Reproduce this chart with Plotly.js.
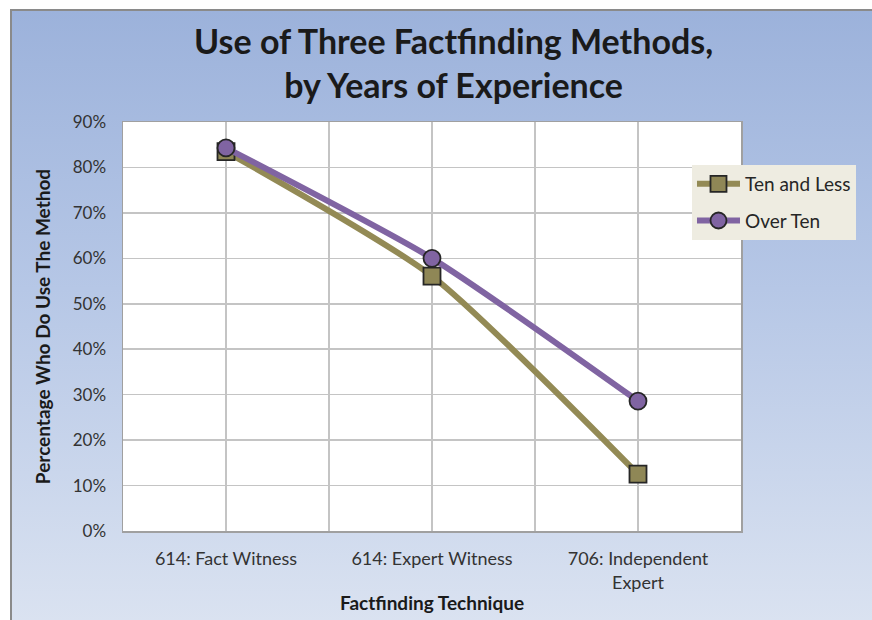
<!DOCTYPE html>
<html>
<head>
<meta charset="utf-8">
<script src="https://cdn.plot.ly/plotly-3.0.1.min.js"></script>
<style>
  html, body { margin: 0; padding: 0; background: #ffffff; width: 872px; height: 620px; overflow: hidden; }
  #bg { position: absolute; left: 10px; top: 9px; width: 880px; height: 620px;
        border-top: 2px solid #8a8a8a; border-left: 2px solid #8a8a8a; box-sizing: border-box;
        background: linear-gradient(to bottom, #9cb2db 0%, #b6c7e6 45%, #dbe3f1 100%); }
  #chart { position: absolute; left: 0; top: 0; width: 872px; height: 620px; }
</style>
</head>
<body>
<div id="bg"></div>
<div id="chart"></div>
<script>
const categories = ["614: Fact Witness", "614: Expert Witness", "706: Independent<br>Expert"];
const tenAndLess = [0.835, 0.561, 0.125];
const overTen = [0.843, 0.600, 0.286];
const yTickVals = [0, 0.1, 0.2, 0.3, 0.4, 0.5, 0.6, 0.7, 0.8, 0.9];
const seriesNames = ["Ten and Less", "Over Ten"];

const xIdx = categories.map((c, i) => i);
const font = "Lato, 'Open Sans', sans-serif";

const traces = [
  {
    x: xIdx, y: tenAndLess, name: seriesNames[0], type: "scatter", mode: "lines+markers",
    legendgroup: "a",
    line: { color: "#938a55", width: 6, shape: "spline", smoothing: 0.6 },
    marker: { symbol: "square", size: 17, color: "#8f8756", line: { color: "#262626", width: 1.8 } }
  },
  {
    x: xIdx, y: overTen, name: seriesNames[1], type: "scatter", mode: "lines+markers",
    legendgroup: "b",
    line: { color: "#8064a2", width: 6, shape: "spline", smoothing: 0.6 },
    marker: { symbol: "circle", size: 17, color: "#8064a2", line: { color: "#262626", width: 1.8 } }
  }
];

const layout = {
  width: 872, height: 620,
  paper_bgcolor: "rgba(0,0,0,0)",
  plot_bgcolor: "#ffffff",
  margin: { l: 123, r: 131, t: 122, b: 89 },
  font: { family: font, size: 18, color: "#262626" },
  title: {
    text: "<b>Use of Three Factfinding Methods,<br>by Years of Experience</b>",
    font: { family: font, size: 34, color: "#1a1a1a" },
    xref: "paper", x: 0.535, xanchor: "center",
    yref: "container", y: 0.913, yanchor: "middle"
  },
  xaxis: {
    range: [-0.5, 2.5],
    tickmode: "array", tickvals: xIdx, ticktext: categories,
    showgrid: true, gridcolor: "#c4c4c4", gridwidth: 1.5,
    minor: { tickmode: "linear", tick0: -0.5, dtick: 1, showgrid: true, gridcolor: "#c4c4c4", gridwidth: 1.5, ticks: "" },
    showline: true, linecolor: "#a0a0a0", linewidth: 1.5, mirror: true,
    ticks: "outside", ticklen: 11, tickcolor: "rgba(0,0,0,0)",
    tickfont: { family: font, size: 18, color: "#333333" },
    zeroline: false, fixedrange: true,
    title: { text: "<b>Factfinding Technique</b>", font: { family: font, size: 19, color: "#1a1a1a" }, standoff: 5 }
  },
  yaxis: {
    range: [0, 0.9],
    tickmode: "array", tickvals: yTickVals, tickformat: ".0%",
    showgrid: true, gridcolor: "#c4c4c4", gridwidth: 1.5,
    showline: true, linecolor: "#a0a0a0", linewidth: 1.5, mirror: true,
    ticks: "outside", ticklen: 12, tickcolor: "rgba(0,0,0,0)",
    tickfont: { family: font, size: 17, color: "#333333" },
    zeroline: false, fixedrange: true,
    title: { text: "<b>Percentage Who Do Use The Method</b>", font: { family: font, size: 19, color: "#1a1a1a" }, standoff: 17 }
  },
  showlegend: true,
  legend: {
    x: 0.9207, y: 0.895, xanchor: "left", yanchor: "top",
    bgcolor: "#eeece1", borderwidth: 0,
    font: { family: font, size: 19, color: "#262626" },
    itemwidth: 43, traceorder: "grouped", tracegroupgap: 9
  }
};

Plotly.newPlot("chart", traces, layout, { staticPlot: true, displayModeBar: false });
</script>
</body>
</html>
